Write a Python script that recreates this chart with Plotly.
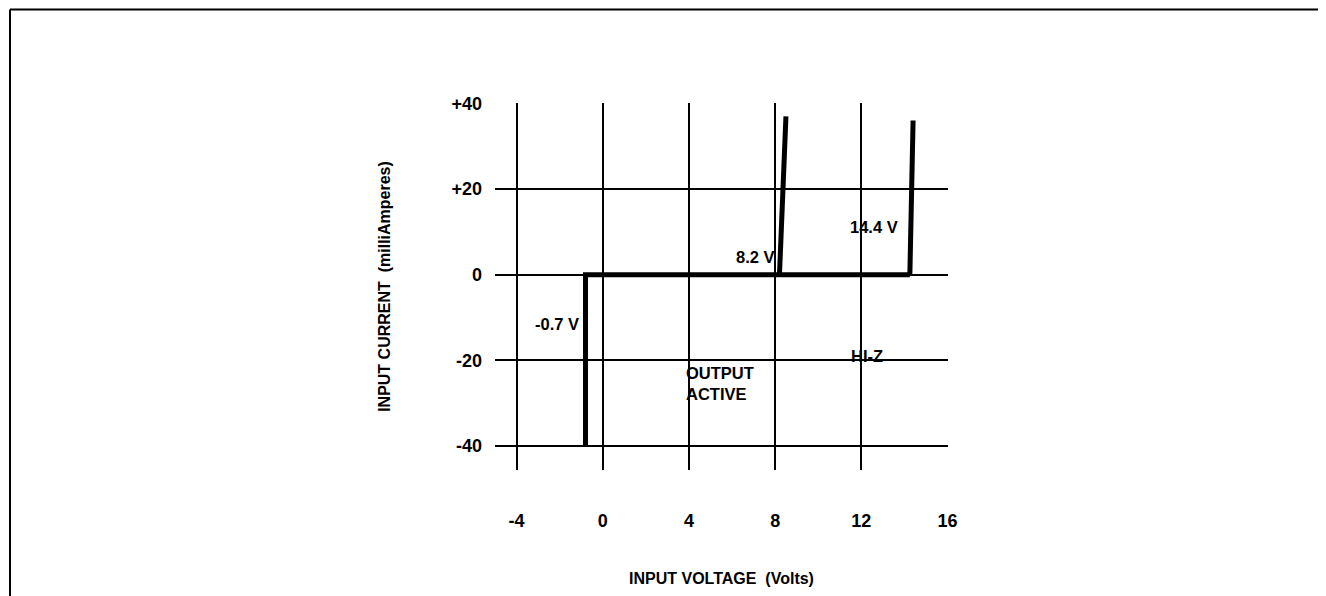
import plotly.graph_objects as go

# Data
x_ticks = [-4, 0, 4, 8, 12, 16]
y_ticks = [-40, -20, 0, 20, 40]
y_ticklabels = ["-40", "-20", "0", "+20", "+40"]

# Main characteristic: clamp at -0.8 V, flat zero current to 14.25 V
main_x = [-0.8, -0.8, 14.25]
main_y = [-40, 0, 0]
# 8.2 V breakdown spike
spike1_x = [8.2, 8.5]
spike1_y = [0, 37]
# 14.4 V breakdown spike
spike2_x = [14.25, 14.4]
spike2_y = [0, 36]

labels = [
    ("-0.7 V", -1.0, -11.4, "right"),
    ("8.2 V", 8.1, 4.1, "right"),
    ("14.4 V", 12.57, 11.1, "center"),
    ("OUTPUT<br>ACTIVE", 3.76, -25.3, "left"),
    ("HI-Z", 12.25, -19.0, "center"),
]

FONT = "Liberation Sans, Arial, sans-serif"

fig = go.Figure()
for xs, ys in [(main_x, main_y), (spike1_x, spike1_y), (spike2_x, spike2_y)]:
    fig.add_trace(go.Scatter(x=xs, y=ys, mode="lines",
                             line=dict(color="black", width=5),
                             showlegend=False, hoverinfo="skip"))

for text, x, y, align in labels:
    fig.add_annotation(x=x, y=y, text=text, showarrow=False,
                       xanchor=align, yanchor="middle", align="left",
                       font=dict(family=FONT, size=16.5, color="black", weight="bold"))

fig.update_xaxes(range=[-5.0, 16.02], tickvals=x_ticks,
                 ticktext=[str(v) for v in x_ticks],
                 showgrid=True, gridcolor="black", gridwidth=2,
                 zeroline=False, showline=False, ticks="",
                 ticklabelstandoff=38,
                 tickfont=dict(family=FONT, size=18, color="black", weight="bold"),
                 title=dict(text="INPUT VOLTAGE  (Volts)", standoff=42,
                            font=dict(family=FONT, size=16, color="black", weight="bold")),
                 fixedrange=True)
fig.update_yaxes(range=[-45.6, 40.1], tickvals=y_ticks,
                 ticktext=y_ticklabels,
                 showgrid=True, gridcolor="black", gridwidth=2,
                 zeroline=False, showline=False, ticks="",
                 ticklabelstandoff=12,
                 tickfont=dict(family=FONT, size=18, color="black", weight="bold"),
                 title=dict(text="INPUT CURRENT  (milliAmperes)", standoff=56,
                            font=dict(family=FONT, size=16, color="black", weight="bold")),
                 fixedrange=True)

# page frame (top and left border of the scanned figure)
fig.add_shape(type="line", xref="paper", yref="paper",
              x0=(10 - 495) / 453, x1=(1340 - 495) / 453,
              y0=(470 - 9.5) / 367, y1=(470 - 9.5) / 367,
              line=dict(color="black", width=2))
fig.add_shape(type="line", xref="paper", yref="paper",
              x0=(10 - 495) / 453, x1=(10 - 495) / 453,
              y0=(470 - 9.5) / 367, y1=(470 - 610) / 367,
              line=dict(color="black", width=2))

fig.update_layout(width=1326, height=596,
                  margin=dict(l=487, r=386, t=95, b=134, autoexpand=False),
                  paper_bgcolor="white", plot_bgcolor="white",
                  font=dict(family=FONT, color="black"))

fig.write_html("out.html")
